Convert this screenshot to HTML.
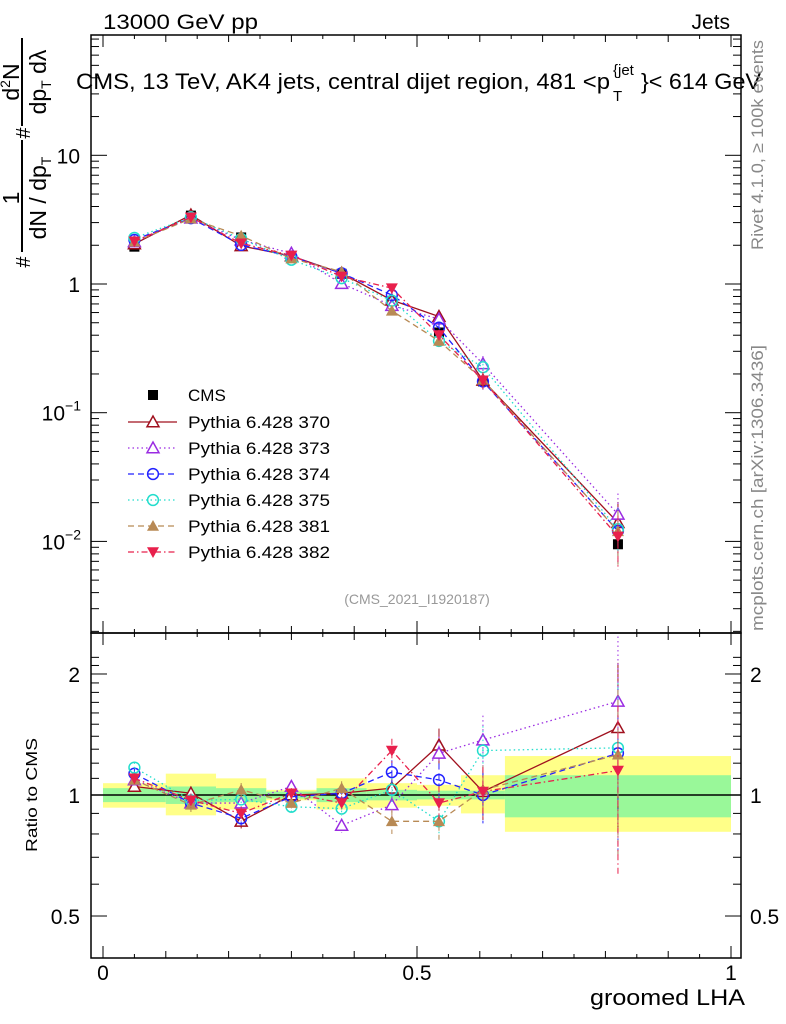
<!DOCTYPE html>
<html><head><meta charset="utf-8"><style>
html,body{margin:0;padding:0;background:#fff;}
svg{display:block;font-family:"Liberation Sans",sans-serif;}
</style></head><body>
<svg id="chart" width="786" height="1024" viewBox="0 0 786 1024" xmlns="http://www.w3.org/2000/svg">
<g id="bands"></g>
<g id="axes"></g>
<g id="series"></g>
<text x="103" y="29" font-size="21" textLength="155" lengthAdjust="spacingAndGlyphs">13000 GeV pp</text>
<text x="730" y="29" font-size="21" text-anchor="end">Jets</text>
<text x="76" y="89" font-size="22"><tspan textLength="534" lengthAdjust="spacingAndGlyphs">CMS, 13 TeV, AK4 jets, central dijet region, 481 &lt;p</tspan><tspan x="613" dy="-14" font-size="15">{jet</tspan><tspan x="613" dy="26" font-size="15">T</tspan><tspan x="641" dy="-12" textLength="120" lengthAdjust="spacingAndGlyphs">}&lt; 614 GeV</tspan></text>
<text x="417" y="604" font-size="14" fill="#999" text-anchor="middle">(CMS_2021_I1920187)</text>
<text transform="translate(763,250) rotate(-90)" font-size="17" fill="#888" textLength="210" lengthAdjust="spacingAndGlyphs">Rivet 4.1.0, ≥ 100k events</text>
<text transform="translate(763,631) rotate(-90)" font-size="17" fill="#888" textLength="286" lengthAdjust="spacingAndGlyphs">mcplots.cern.ch [arXiv:1306.3436]</text>
<g font-size="23">
 <line x1="22" y1="252" x2="22" y2="140" stroke="#000" stroke-width="2"/>
 <line x1="22" y1="126" x2="22" y2="38" stroke="#000" stroke-width="2"/>
 <text transform="translate(30,262) rotate(-90)" text-anchor="middle" font-size="20">#</text>
 <text transform="translate(19,198) rotate(-90)" text-anchor="middle">1</text>
 <text transform="translate(46,198) rotate(-90)" text-anchor="middle">dN / dp<tspan font-size="14" dy="5">T</tspan></text>
 <text transform="translate(30,133) rotate(-90)" text-anchor="middle" font-size="20">#</text>
 <text transform="translate(19,82) rotate(-90)" text-anchor="middle">d<tspan font-size="14" dy="-9">2</tspan><tspan dy="9">N</tspan></text>
 <text transform="translate(46,82) rotate(-90)" text-anchor="middle">dp<tspan font-size="14" dy="5">T</tspan><tspan dy="-5"> dλ</tspan></text>
</g>
<text transform="translate(37,795) rotate(-90)" font-size="16" text-anchor="middle" textLength="114" lengthAdjust="spacingAndGlyphs">Ratio to CMS</text>
<text x="745" y="1005" font-size="22" text-anchor="end" textLength="155" lengthAdjust="spacingAndGlyphs">groomed LHA</text>
<g id="legend"></g>
</svg>
<script>
const edges=[0,0.1,0.18,0.26,0.34,0.42,0.5,0.57,0.64,1.0];
const centers=[0.05,0.14,0.22,0.30,0.38,0.46,0.535,0.605,0.82];
const cmsValues=[1.95,3.4,2.3,1.65,1.2,0.72,0.42,0.175,0.0095];
const cmsStatUp=[0.04,0.05,0.04,0.02,0.04,0.03,0.025,0.025,0.12];
const cmsTotUp=[0.07,0.13,0.10,0.03,0.10,0.07,0.06,0.12,0.25];
const cmsTotDn=[0.07,0.11,0.08,0.03,0.08,0.07,0.06,0.10,0.19];
const relErr=[0.03,0.04,0.04,0.03,0.04,0.07,0.10,0.15,0.45];
const r370=[1.05,1.01,0.86,1.0,1.01,1.04,1.33,1.02,1.47];
const r373=[1.09,0.955,0.955,1.05,0.84,0.945,1.27,1.37,1.71];
const r374=[1.13,0.955,0.875,0.99,1.01,1.14,1.09,1.0,1.27];
const r375=[1.17,0.97,0.975,0.935,0.925,1.03,0.86,1.29,1.31];
const r381=[1.09,0.945,1.03,0.955,1.04,0.86,0.86,1.03,1.26];
const r382=[1.10,0.97,0.90,1.01,0.955,1.29,0.955,1.02,1.15];
const seriesNames=["Pythia 6.428 370","Pythia 6.428 373","Pythia 6.428 374","Pythia 6.428 375","Pythia 6.428 381","Pythia 6.428 382"];
const seriesRatios=[r370,r373,r374,r375,r381,r382];
const styles=[
 {c:"#a0101e",d:"",m:"tri-open"},
 {c:"#9a2be2",d:"1.5,3",m:"tri-open"},
 {c:"#2222ff",d:"6,4",m:"circ"},
 {c:"#22ddcc",d:"1.5,3",m:"circ"},
 {c:"#b88a55",d:"6,4",m:"tri-fill"},
 {c:"#e8204c",d:"6,3,1.5,3",m:"tri-down"}];
const NS="http://www.w3.org/2000/svg";
const X0=103,X1=731,TOP=35,MID=633,BOT=958,LEFT=91,RIGHT=741;
const xs=v=>X0+(X1-X0)*v;
const ys=v=>284-128.7*Math.log10(v);
const yr=v=>795-402*Math.log10(v);
function el(tag,attrs,parent){const e=document.createElementNS(NS,tag);for(const k in attrs)e.setAttribute(k,attrs[k]);parent.appendChild(e);return e;}
const axes=document.getElementById('axes'),bands=document.getElementById('bands'),ser=document.getElementById('series'),leg=document.getElementById('legend');
for(let i=0;i<9;i++){
 const y1=yr(1+cmsTotUp[i]),y2=yr(1-cmsTotDn[i]);
 const b=el('rect',{x:xs(edges[i]),y:y1,width:xs(edges[i+1])-xs(edges[i]),height:y2-y1,fill:'#ffff88'},bands);
 
 
 const g1=yr(1+cmsStatUp[i]),g2=yr(1-cmsStatUp[i]);
 const g=el('rect',{x:xs(edges[i]),y:g1,width:xs(edges[i+1])-xs(edges[i]),height:g2-g1,fill:'#99f899'},bands);
 
 
}
el('rect',{x:LEFT,y:TOP,width:RIGHT-LEFT,height:MID-TOP,fill:'none',stroke:'#000','stroke-width':1.5},axes);
el('rect',{x:LEFT,y:MID,width:RIGHT-LEFT,height:BOT-MID,fill:'none',stroke:'#000','stroke-width':1.5},axes);
el('line',{x1:LEFT,y1:795,x2:RIGHT,y2:795,stroke:'#000','stroke-width':1.5},axes);
for(let k=0;k<=20;k++){
 const v=k*0.05,x=xs(v);
 const L=(k%10==0)?12:(k%2==0?7:4);
 [TOP,MID].forEach(y=>el('line',{x1:x,y1:y,x2:x,y2:y+L,stroke:'#000'},axes));
 [MID,BOT].forEach(y=>el('line',{x1:x,y1:y,x2:x,y2:y-L,stroke:'#000'},axes));
}
[[0,"0"],[0.5,"0.5"],[1,"1"]].forEach(([v,t])=>{const e=el('text',{x:xs(v),y:980,'font-size':21,'text-anchor':'middle'},axes);e.textContent=t;});
for(let d=-3;d<=1;d++){for(let k=1;k<=9;k++){const v=k*Math.pow(10,d);const y=ys(v);if(y<TOP||y>MID)continue;const L=k==1?16:8;
 el('line',{x1:LEFT,y1:y,x2:LEFT+L,y2:y,stroke:'#000'},axes);el('line',{x1:RIGHT,y1:y,x2:RIGHT-L,y2:y,stroke:'#000'},axes);}}
[[10,"10"],[1,"1"]].forEach(([v,t])=>{const e=el('text',{x:80,y:ys(v)+8,'font-size':21,'text-anchor':'end'},axes);e.textContent=t;});
[[0.1,"−1"],[0.01,"−2"]].forEach(([v,t])=>{const e=el('text',{x:65,y:ys(v)+8,'font-size':21,'text-anchor':'end'},axes);e.textContent="10";const s=el('text',{x:81,y:ys(v)-2,'font-size':14,'text-anchor':'end'},axes);s.textContent=t;});
for(let v=0.5;v<=2.3;v+=0.1){const y=yr(v);if(y<MID||y>BOT)continue;const maj=Math.abs(v-0.5)<1e-6||Math.abs(v-1)<1e-6||Math.abs(v-2)<1e-6;const L=maj?16:8;
 el('line',{x1:LEFT,y1:y,x2:LEFT+L,y2:y,stroke:'#000'},axes);el('line',{x1:RIGHT,y1:y,x2:RIGHT-L,y2:y,stroke:'#000'},axes);}
[[2,"2"],[1,"1"],[0.5,"0.5"]].forEach(([v,t])=>{const a=el('text',{x:80,y:yr(v)+8,'font-size':21,'text-anchor':'end'},axes);a.textContent=t;const b=el('text',{x:750,y:yr(v)+8,'font-size':21},axes);b.textContent=t;});
function marker(g,m,c,x,y,s){
 if(m=="circ")el('circle',{cx:x,cy:y,r:s*0.9,fill:'none',stroke:c,'stroke-width':1.5},g);
 else if(m=="tri-open")el('polygon',{points:`${x},${y-s} ${x-s},${y+s*0.8} ${x+s},${y+s*0.8}`,fill:'#fff',stroke:c,'stroke-width':1.5},g);
 else if(m=="tri-fill")el('polygon',{points:`${x},${y-s} ${x-s},${y+s*0.8} ${x+s},${y+s*0.8}`,fill:c},g);
 else if(m=="tri-down")el('polygon',{points:`${x},${y+s} ${x-s},${y-s*0.8} ${x+s},${y-s*0.8}`,fill:c},g);
 else el('rect',{x:x-s,y:y-s,width:2*s,height:2*s,fill:c},g);
}
seriesRatios.forEach((r,si)=>{
 const st=styles[si];
 const g=el('g',{},ser);
 
 
 const vals=r.map((v,i)=>v*cmsValues[i]);
 const pts=vals.map((v,i)=>xs(centers[i])+','+ys(v)).join(' ');
 el('polyline',{points:pts,fill:'none',stroke:st.c,'stroke-width':1.3,'stroke-dasharray':st.d},g);
 const pr=r.map((v,i)=>xs(centers[i])+','+yr(v)).join(' ');
 el('polyline',{points:pr,fill:'none',stroke:st.c,'stroke-width':1.3,'stroke-dasharray':st.d},g);
 r.forEach((v,i)=>{
  const x=xs(centers[i]);const e=relErr[i];
  el('line',{x1:x,y1:ys(vals[i]*(1+e)),x2:x,y2:ys(vals[i]*(1-e)),stroke:st.c,'stroke-dasharray':st.d},g);
  el('line',{x1:x,y1:yr(v*(1+e)),x2:x,y2:yr(v*(1-e)),stroke:st.c,'stroke-dasharray':st.d},g);
  marker(g,st.m,st.c,x,ys(vals[i]),6);
  marker(g,st.m,st.c,x,yr(v),6);
 });
});
const cg=el('g',{},ser);


cmsValues.forEach((v,i)=>{const x=xs(centers[i]);el('rect',{x:x-5,y:ys(v)-5,width:10,height:10,fill:'#000'},cg);});
ser.insertBefore(cg,ser.firstChild);
const lr=[395,422,448,474,500,526,552];
{const g=el('g',{},leg);
 marker(g,'sq','#000',153,lr[0],5);const t=el('text',{x:188,y:lr[0]+6,'font-size':17},g);t.textContent="CMS";}
seriesNames.forEach((n,i)=>{const st=styles[i];const g=el('g',{},leg);
 
 
 const y=lr[i+1];
 el('line',{x1:128,y1:y,x2:177,y2:y,stroke:st.c,'stroke-width':1.3,'stroke-dasharray':st.d},g);
 marker(g,st.m,st.c,153,y,6);
 const t=el('text',{x:188,y:y+6,'font-size':17,textLength:142,lengthAdjust:'spacingAndGlyphs'},g);t.textContent=n;});
</script>
</body></html>
